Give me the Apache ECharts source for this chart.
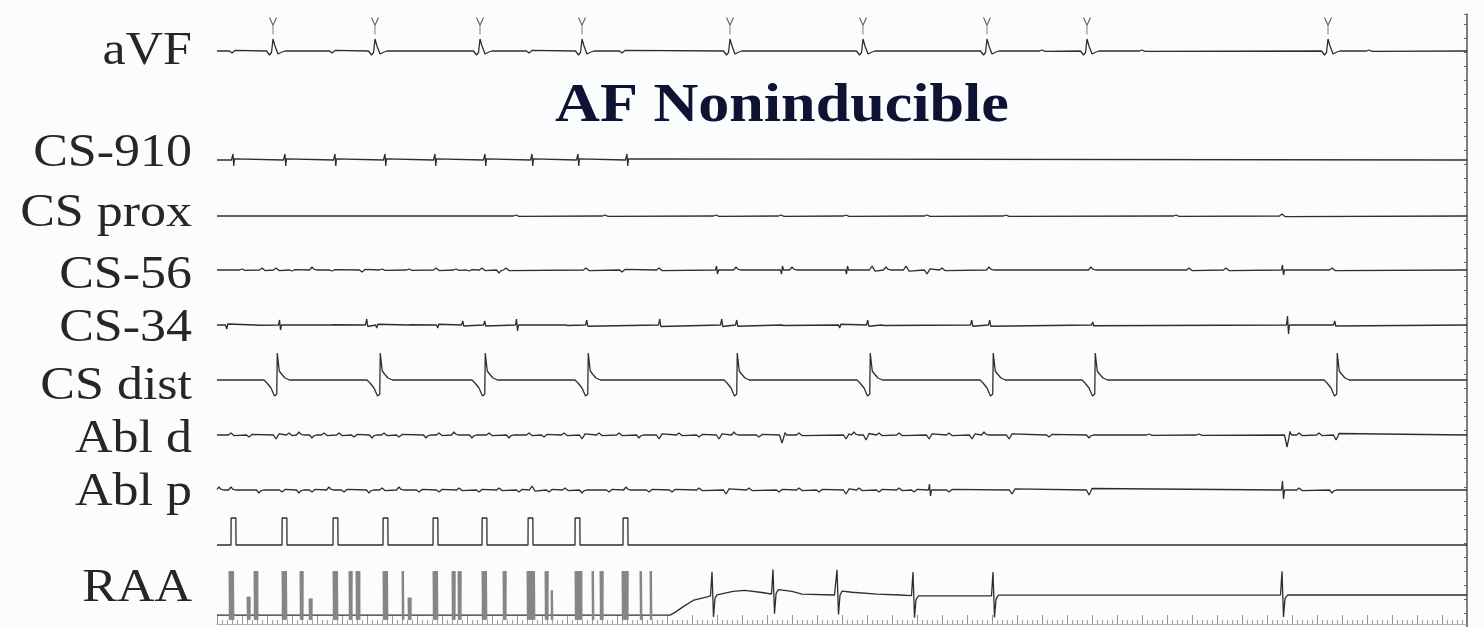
<!DOCTYPE html>
<html>
<head>
<meta charset="utf-8">
<script src="https://cdn.jsdelivr.net/npm/echarts@6/dist/echarts.min.js"></script>
<style>
  html, body { margin: 0; padding: 0; background: #fbfcfd; }
  #chart { width: 1484px; height: 627px; }
</style>
</head>
<body>
<div id="chart"></div>
<script>
// Intracardiac recording after the pacing train: time in ms, amplitudes in trace units.
const X_MAX = 5000;

const channelNames = ['aVF', 'CS-910', 'CS prox', 'CS-56', 'CS-34', 'CS dist', 'Abl d', 'Abl p', 'RAA'];
const titleText = 'AF Noninducible';

// surface lead: QRS times and small baseline waves [t, amp]
const avfBeats = [224, 632, 1052, 1460, 2052, 2584, 3080, 3480, 4444];
const avfWaves = [[64, -2], [464, -2], [1252, -2], [1624, -2], [3304, 1], [3704, 1], [4612, 1]];

// pacing train (S1 onsets) delivered from CS 9-10
const stimOnsets = [56, 260, 464, 664, 864, 1060, 1244, 1432, 1624];
const cs910Spikes = [64, 272, 472, 672, 872, 1072, 1260, 1444, 1640];

const csProxWaves = [[1200, 1], [1556, 1], [2000, 1], [2260, 1], [2520, 1], [2844, 1], [3160, 1], [3840, 1], [4264, 2]];

const cs56Waves = [[104, 1], [184, 2], [240, 2], [304, -1], [384, 3], [464, -1], [584, -2], [664, 1], [772, 1],
  [880, 2], [960, 1], [1012, -1], [1064, 2], [1132, -3], [1160, 2], [1480, 2], [1624, -2], [1772, 2],
  [2080, 3], [2304, 3], [2624, 4], [2680, 3], [2760, 4], [2844, -4], [2904, 2], [3092, 3], [3500, 3],
  [3892, 2], [4040, 2], [4464, 2]];
const cs56Biphasic = [[2000, 4], [2260, -4], [2520, -4], [4264, 5]];

const cs34Spikes = [[40, -4], [600, 6], [640, -3], [884, -3], [984, 4], [1072, 4], [1400, 2], [1480, 5], [1772, 6],
  [2020, 6], [2080, 5], [2264, 2], [2492, -3], [2604, 5], [2664, 2], [3020, 5], [3092, 5], [3504, 3], [4472, 4],
  [160, 1], [464, -1], [772, -1]];
const cs34Biphasic = [[252, 5], [1200, 6], [4284, 9]];

const csDistBeats = [240, 652, 1072, 1484, 2080, 2612, 3104, 3512, 4480];

const ablDistWaves = [[60, 2], [132, -2], [240, -4], [292, 2], [332, 3], [384, -3], [432, 2], [492, 2], [552, -2],
  [624, -3], [672, 2], [732, -2], [840, -3], [892, 2], [952, 3], [1024, -3], [1092, 2], [1172, -3], [1252, 2],
  [1312, -2], [1392, 2], [1464, -4], [1532, 2], [1612, 2], [1692, -3], [1772, -4], [1852, 2], [1932, -2],
  [2012, -4], [2072, 3], [2172, -2], [2264, -8], [2332, 2], [2520, -4], [2552, 3], [2600, -5], [2652, 2],
  [2732, 2], [2852, -4], [2932, 2], [3024, -4], [3072, 3], [3172, -4], [3332, -2], [3492, -3], [3732, 1],
  [3932, 1], [4284, -12], [4332, 2], [4412, 2], [4480, -5]];

const ablProxWaves = [[12, 3], [60, 3], [172, -3], [264, -2], [332, -3], [384, -2], [452, 3], [512, -2], [612, -3],
  [664, 2], [732, 3], [812, -2], [892, -2], [972, 2], [1052, -2], [1132, 2], [1212, -2], [1264, 4], [1332, -2],
  [1396, 2], [1464, -3], [1572, -2], [1640, 3], [1732, -2], [1824, -2], [1932, 2], [2040, -4], [2132, 2],
  [2252, -2], [2332, 2], [2412, -2], [2520, -4], [2572, 2], [2652, -2], [2732, 2], [2792, -2], [2932, -2],
  [3184, -4], [3492, -5], [4332, 2], [4464, -3]];
const ablProxBiphasic = [[2852, 6], [4264, 9]];

// right atrial appendage: saturated stimulus artifacts [start, end, top], then local electrograms
const raaArtifacts = [[48, 68, 26], [120, 132, -2], [148, 164, 26], [260, 280, 26], [332, 344, 26], [368, 380, -4],
  [464, 484, 26], [528, 540, 26], [556, 572, 26], [664, 684, 26], [740, 748, 26], [764, 776, -3],
  [864, 884, 26], [940, 952, 26], [964, 976, 26], [1060, 1080, 26], [1144, 1156, 26], [1240, 1272, 26],
  [1312, 1324, 26], [1336, 1344, 5], [1432, 1460, 26], [1500, 1508, 26], [1532, 1544, 26], [1620, 1644, 26],
  [1692, 1700, 26], [1732, 1740, 26]];
const raaSpikes = [1980, 2224, 2480, 2784, 3104, 4260];
const raaBaseline = [[0, -22], [1812, -22], [1832, -19], [1864, -13], [1904, -6], [1960, -2], [2000, 1],
  [2064, 4], [2112, 5], [2172, 3], [2220, 1], [2240, 6], [2300, 4], [2340, 1], [2470, 0], [2500, 5],
  [2540, 3], [2640, 1], [2732, 0], [2800, -1], [3100, -1], [3130, 0], [5000, 0]];

// waveform shapes: [dt ms, value]
const TPL = {
  avfQrs:   [[-26, 0], [-14, -4], [-6, -1.5], [0, 12], [8, 5], [20, -3], [36, -1], [48, 0]],
  csDist:   [[-52, 0], [-40, -3], [-24, -8], [-10, -16], [-4, -18], [-1, -14], [1, 27], [5, 26], [9, 9], [18, 6], [32, 2], [50, 0]],
  raaSpike: [[-6, 0], [0, 26], [3, 26], [6, -24], [12, -4], [22, 0]],
  stim:     [[0, 0], [0.5, 27], [19.5, 27], [20, 0]],
  pace:     [[-6, 0], [-2, -0.2], [0, 1], [3, -1], [6, 0.2], [10, 0]],
  sharp:    [[-6, 0], [-1, 1], [3, -0.25], [8, 0]],
  biphasic: [[-6, 0], [-2, 1], [2, -1], [6, 0]],
  blip:     [[-14, 0], [-4, 1], [3, 0.3], [8, -0.3], [14, 0]]
};

function tplAt(tpl, dt) {
  const n = tpl.length;
  if (dt <= tpl[0][0] || dt >= tpl[n - 1][0]) return 0;
  for (let i = 1; i < n; i++) {
    if (dt <= tpl[i][0]) {
      const [a, va] = tpl[i - 1], [b, vb] = tpl[i];
      return va + (vb - va) * (dt - a) / (b - a);
    }
  }
  return 0;
}
function driftAt(drift, t) {
  if (!drift) return 0;
  if (t <= drift[0][0]) return drift[0][1];
  for (let i = 1; i < drift.length; i++) {
    if (t <= drift[i][0]) {
      const [a, va] = drift[i - 1], [b, vb] = drift[i];
      return va + (vb - va) * (t - a) / (b - a);
    }
  }
  return drift[drift.length - 1][1];
}
const asEvents = times => times.map(t => [t, 1]);

// sums shapes placed at event times on top of an optional baseline
function buildTrace(parts, drift) {
  const times = new Set([0, X_MAX]);
  parts.forEach(p => p.events.forEach(e => p.tpl.forEach(v => times.add(e[0] + v[0]))));
  if (drift) drift.forEach(d => times.add(d[0]));
  const ts = [...times].filter(t => t >= 0 && t <= X_MAX).sort((a, b) => a - b);
  return ts.map(t => {
    let v = driftAt(drift, t);
    parts.forEach(p => p.events.forEach(e => { v += e[1] * tplAt(p.tpl, t - e[0]); }));
    return [t, +v.toFixed(3)];
  });
}

function artifactBands(bands) {
  const out = [];
  bands.forEach(([t0, t1, top]) => {
    for (let t = t0; t <= t1; t += 3) {
      out.push([t, top]);
      out.push([Math.min(t + 1.5, t1), -27]);
    }
    out.push([t1 + 1, '-']);
  });
  return out;
}

const traces = [
  buildTrace([{ tpl: TPL.avfQrs, events: asEvents(avfBeats) }, { tpl: TPL.blip, events: avfWaves }]),
  buildTrace([{ tpl: TPL.pace, events: cs910Spikes.map(t => [t, 6]) }]),
  buildTrace([{ tpl: TPL.blip, events: csProxWaves }]),
  buildTrace([{ tpl: TPL.blip, events: cs56Waves }, { tpl: TPL.biphasic, events: cs56Biphasic }]),
  buildTrace([{ tpl: TPL.sharp, events: cs34Spikes }, { tpl: TPL.biphasic, events: cs34Biphasic }]),
  buildTrace([{ tpl: TPL.csDist, events: asEvents(csDistBeats) }]),
  buildTrace([{ tpl: TPL.blip, events: ablDistWaves }]),
  buildTrace([{ tpl: TPL.blip, events: ablProxWaves }, { tpl: TPL.biphasic, events: ablProxBiphasic }]),
  buildTrace([{ tpl: TPL.stim, events: asEvents(stimOnsets) }]),
  buildTrace([{ tpl: TPL.raaSpike, events: asEvents(raaSpikes) }], raaBaseline)
];

// channel rows: baseline y (px) and half height of each row
const rows = [[51, 45], [160, 35], [216, 35], [270, 35], [325, 35], [380, 35], [435, 35], [490, 35], [545, 35], [598, 35]];
const labelY = [52, 154, 214, 276, 329, 387, 440, 493, 589];

const INK = '#2e2e2e';
const grids = [], xAxes = [], yAxes = [], series = [];
rows.forEach(([base, h], i) => {
  grids.push({ left: 217, right: 17, top: base - h, height: 2 * h });
  xAxes.push({ type: 'value', gridIndex: i, min: 0, max: X_MAX, show: false });
  yAxes.push({ type: 'value', gridIndex: i, min: -h, max: h, show: false });
  series.push({
    type: 'line', xAxisIndex: i, yAxisIndex: i, data: traces[i], showSymbol: false,
    lineStyle: { color: INK, width: 1.3 }, silent: true
  });
});

// beat markers above aVF
series.push({
  type: 'scatter', xAxisIndex: 0, yAxisIndex: 0, data: avfBeats.map(t => [t, 25]),
  symbol: 'path://M0,0L5,9L10,0M5,9L5,20', symbolSize: [7, 17],
  itemStyle: { color: 'rgba(0,0,0,0)', borderColor: '#333', borderWidth: 1.2 }, silent: true
});
// RAA stimulus artifacts
series.push({
  type: 'line', xAxisIndex: 9, yAxisIndex: 9, data: artifactBands(raaArtifacts), showSymbol: false,
  connectNulls: false, lineStyle: { color: '#858585', width: 1 }, silent: true
});

// right-hand border with calibration ticks
const fi = grids.length;
grids.push({ left: 217, right: 17, top: 14, bottom: 0 });
xAxes.push({ type: 'value', gridIndex: fi, min: 0, max: X_MAX, show: false });
yAxes.push({
  type: 'value', gridIndex: fi, position: 'right', min: 0, max: 612, interval: 14,
  axisLine: { show: true, onZero: false, lineStyle: { color: '#555', width: 1.5 } },
  axisTick: { show: true, inside: true, length: 3, lineStyle: { color: '#666' } },
  axisLabel: { show: false }, splitLine: { show: false }
});

// timing marks along the bottom
const ti = grids.length;
grids.push({ left: 217, right: 17, top: 612, height: 12 });
xAxes.push({
  type: 'value', gridIndex: ti, min: 0, max: X_MAX, interval: 100, position: 'bottom',
  axisLine: { show: true, onZero: false, lineStyle: { color: '#9a9a9a', width: 0.8 } },
  axisTick: { show: true, inside: true, length: 9, lineStyle: { color: '#777', width: 0.8 } },
  minorTick: { show: true, splitNumber: 5, length: 4, lineStyle: { color: '#888', width: 0.8 } },
  axisLabel: { show: false }, splitLine: { show: false }
});
yAxes.push({ type: 'value', gridIndex: ti, show: false });

const graphics = [{
  type: 'text', x: 782, y: 107, scaleX: 1.15, silent: true,
  style: { text: titleText, x: 0, y: 0, align: 'center', verticalAlign: 'middle',
           font: 'bold 54px "Liberation Serif"', fill: '#0e1233' }
}];
channelNames.forEach((name, i) => {
  graphics.push({
    type: 'text', x: 192, y: labelY[i], scaleX: 1.13, silent: true,
    style: { text: name, x: 0, y: 0, align: 'right', verticalAlign: 'middle',
             font: '46px "Liberation Serif"', fill: '#262626' }
  });
});

const chart = echarts.init(document.getElementById('chart'), null, { renderer: 'canvas' });
chart.setOption({
  backgroundColor: '#fbfcfd',
  animation: false,
  grid: grids, xAxis: xAxes, yAxis: yAxes, series: series, graphic: graphics
});
</script>
</body>
</html>
